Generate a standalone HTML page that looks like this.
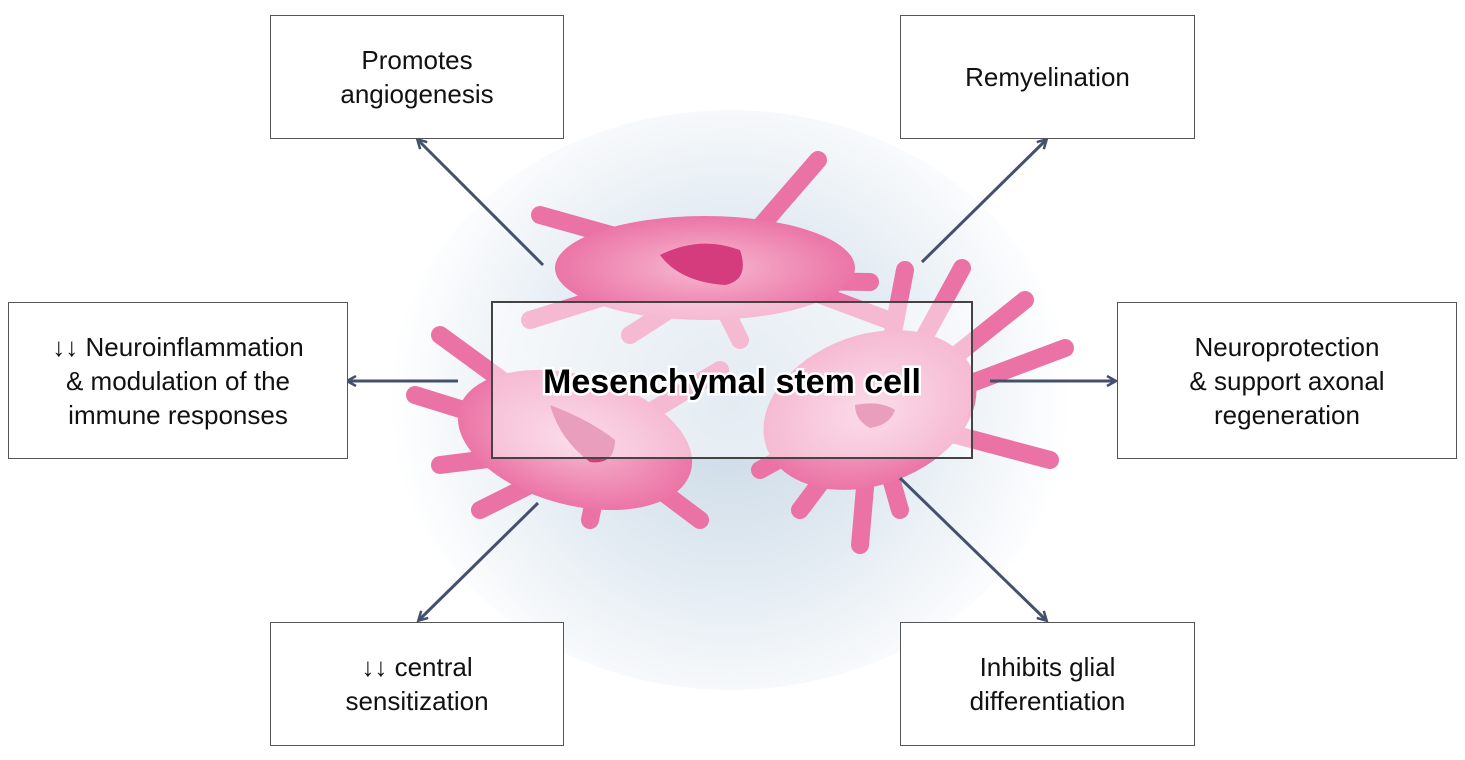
<!DOCTYPE html>
<html><head><meta charset="utf-8"><style>
body{margin:0;width:1465px;height:760px;background:#fff;position:relative;overflow:hidden;font-family:"Liberation Sans",sans-serif}
.b{position:absolute;border:1.3px solid #555;background:#fff;box-sizing:border-box;display:flex;align-items:center;justify-content:center;text-align:center;font-size:26px;line-height:34px;color:#111}
svg{position:absolute;left:0;top:0}
</style></head><body>
<svg width="1465" height="760">
<defs>
<radialGradient id="g" cx="730" cy="400" r="340" gradientUnits="userSpaceOnUse">
<stop offset="0" stop-color="#c8d7e4"/><stop offset="0.55" stop-color="#e4ecf3"/><stop offset="1" stop-color="#fff"/></radialGradient>
<radialGradient id="c" cx="0.5" cy="0.5" r="0.6"><stop offset="0" stop-color="#f7b9d2"/><stop offset="1" stop-color="#e9679d"/></radialGradient>
<marker id="a" markerWidth="12" markerHeight="12" refX="9" refY="6" orient="auto" markerUnits="userSpaceOnUse"><path d="M1,1 L10,6 L1,11" fill="none" stroke="#44506e" stroke-width="2.5"/></marker>
</defs>
<ellipse cx="730" cy="400" rx="340" ry="290" fill="url(#g)"/>
<g stroke="#ea72a5" stroke-linecap="round" fill="none" stroke-width="18">
<path d="M700,260 L540,215"/><path d="M690,270 L530,320"/><path d="M740,250 L818,160"/><path d="M740,265 L888,320"/><path d="M730,280 L870,282"/><path d="M700,290 L630,335"/><path d="M720,300 L740,340"/>
<path d="M570,430 L440,335"/><path d="M560,440 L415,395"/><path d="M560,450 L440,465"/><path d="M580,460 L480,510"/><path d="M600,470 L590,520"/><path d="M620,460 L700,520"/><path d="M620,430 L720,370"/>
<path d="M880,400 L905,270"/><path d="M890,400 L962,268"/><path d="M900,400 L1025,300"/><path d="M900,410 L1065,348"/><path d="M900,420 L1050,460"/><path d="M870,430 L860,545"/><path d="M860,430 L800,510"/><path d="M880,440 L900,510"/><path d="M850,420 L760,470"/>
</g>
<g fill="url(#c)">
<ellipse cx="705" cy="268" rx="150" ry="52"/>
<ellipse cx="575" cy="440" rx="120" ry="65" transform="rotate(15 575 440)"/>
<ellipse cx="870" cy="410" rx="110" ry="75" transform="rotate(-20 870 410)"/>
</g>
<path d="M660,255 Q700,235 740,250 Q750,280 725,285 Q680,282 660,255Z" fill="#d53c7d"/>
<path d="M550,405 Q590,420 615,440 Q615,465 590,462 Q560,440 550,405Z" fill="#d53c7d"/>
<path d="M855,405 Q880,400 895,410 Q890,425 870,428 Q855,420 855,405Z" fill="#d53c7d"/>
<g stroke="#44506e" stroke-width="3" marker-end="url(#a)">
<line x1="543" y1="265" x2="418" y2="140"/>
<line x1="922" y1="262" x2="1046" y2="140"/>
<line x1="458" y1="381" x2="348" y2="381"/>
<line x1="990" y1="381" x2="1115" y2="381"/>
<line x1="538" y1="503" x2="419" y2="620"/>
<line x1="900" y1="478" x2="1046" y2="620"/>
</g>
<rect x="492" y="302" width="480" height="156" fill="#fff" fill-opacity="0.5" stroke="#444" stroke-width="2"/>
<text x="732" y="393" text-anchor="middle" font-family="Liberation Sans" font-weight="bold" font-size="34" stroke="#fff" stroke-width="5" paint-order="stroke" fill="#000">Mesenchymal stem cell</text>
</svg>
<div class="b" style="left:270px;top:15px;width:294px;height:124px">Promotes<br>angiogenesis</div>
<div class="b" style="left:900px;top:15px;width:295px;height:124px">Remyelination</div>
<div class="b" style="left:8px;top:302px;width:340px;height:157px">↓↓ Neuroinflammation<br>&amp; modulation of the<br>immune responses</div>
<div class="b" style="left:1117px;top:302px;width:340px;height:157px">Neuroprotection<br>&amp; support axonal<br>regeneration</div>
<div class="b" style="left:270px;top:622px;width:294px;height:124px">↓↓ central<br>sensitization</div>
<div class="b" style="left:900px;top:622px;width:295px;height:124px">Inhibits glial<br>differentiation</div>
</body></html>
